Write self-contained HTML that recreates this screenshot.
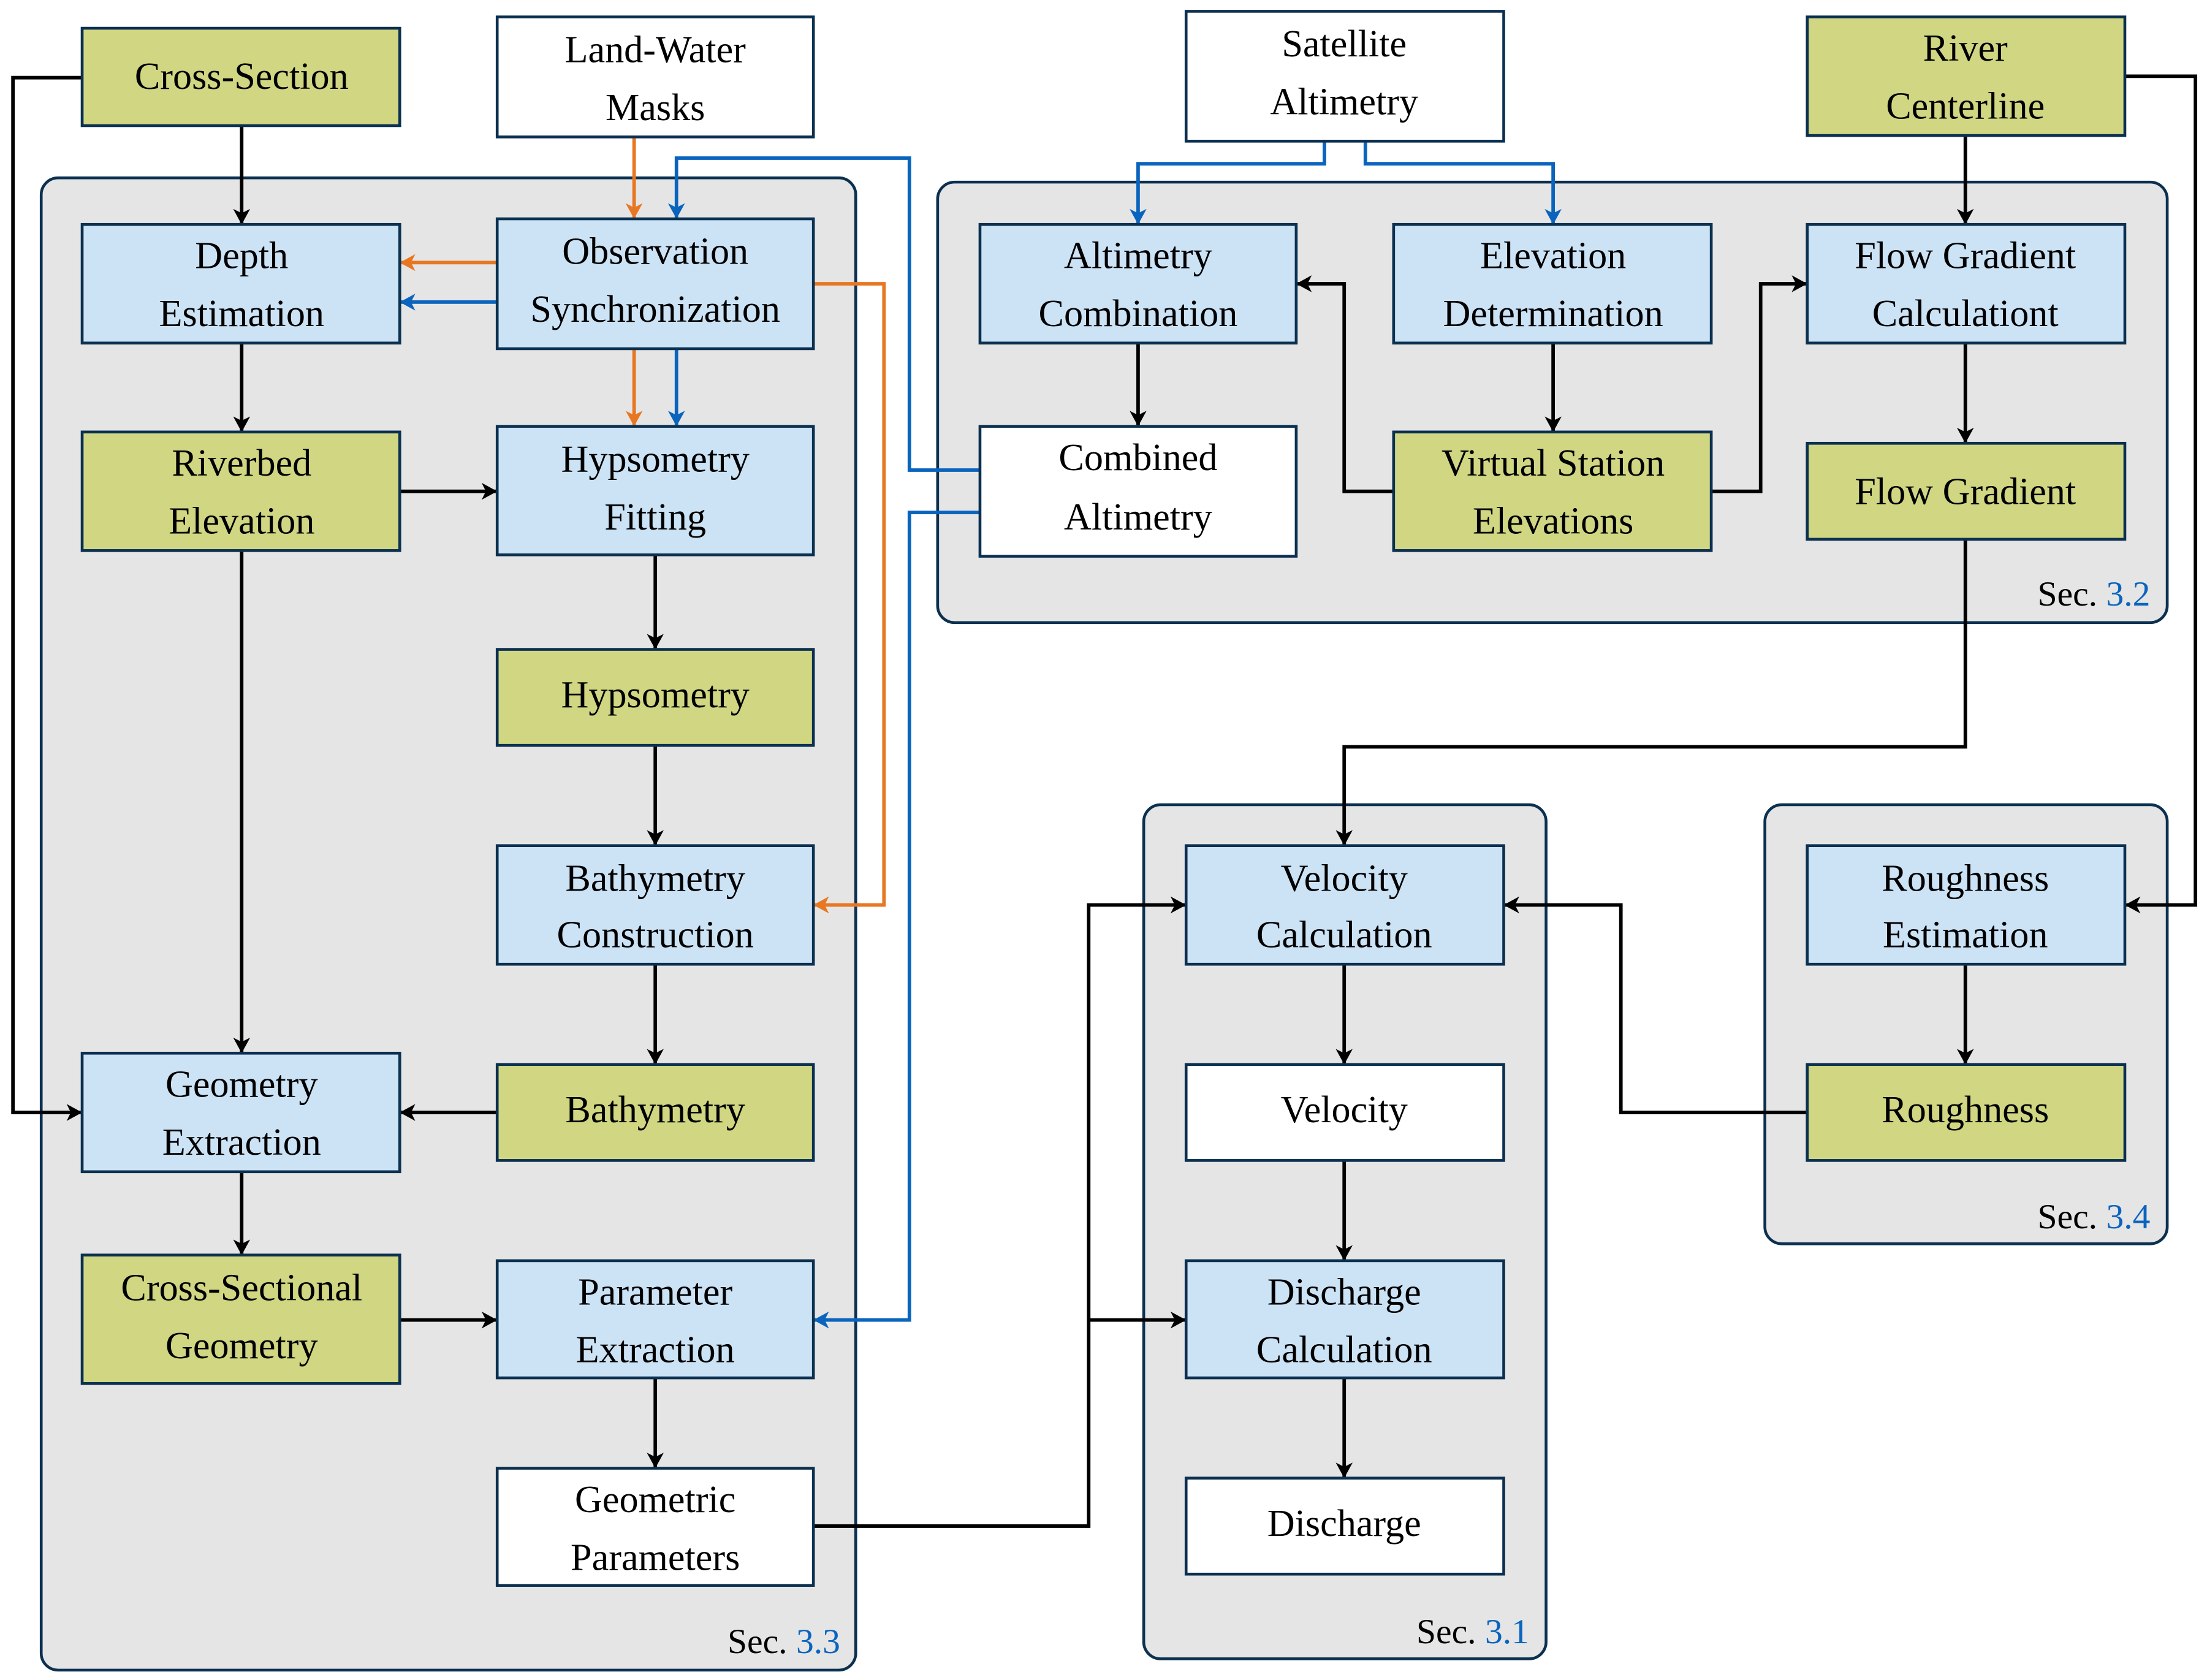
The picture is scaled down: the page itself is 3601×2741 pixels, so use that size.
<!DOCTYPE html>
<html><head><meta charset="utf-8"><style>html,body{margin:0;padding:0;background:#fff}svg{display:block}</style></head>
<body>
<svg xmlns="http://www.w3.org/2000/svg" width="3601" height="2741" viewBox="0 0 1563 1190" font-family="'Liberation Serif',serif">
<defs>
<marker id="ak" markerWidth="14" markerHeight="14" refX="11" refY="7" orient="auto" markerUnits="userSpaceOnUse"><path d="M1,1 L12,7 L1,13 L4,7 Z" fill="#000"/></marker>
<marker id="ao" markerWidth="14" markerHeight="14" refX="11" refY="7" orient="auto" markerUnits="userSpaceOnUse"><path d="M1,1 L12,7 L1,13 L4,7 Z" fill="#e87722"/></marker>
<marker id="ab" markerWidth="14" markerHeight="14" refX="11" refY="7" orient="auto" markerUnits="userSpaceOnUse"><path d="M1,1 L12,7 L1,13 L4,7 Z" fill="#0a64be"/></marker>
</defs>
<g fill="#e5e5e5" stroke="#0b3050" stroke-width="2">
<rect x="29" y="126" width="577" height="1057" rx="12"/>
<rect x="664" y="129" width="871" height="312" rx="12"/>
<rect x="810" y="570" width="285" height="605" rx="12"/>
<rect x="1250" y="570" width="285" height="311" rx="12"/>
</g>
<g stroke-width="2.5" fill="none">
<g stroke="#000" marker-end="url(#ak)">
<path d="M58,55 H9 V788 H57"/>
<path d="M171,89 V158"/>
<path d="M171,243 V305"/>
<path d="M283,348 H351"/>
<path d="M171,390 V745"/>
<path d="M464,393 V459"/>
<path d="M464,528 V598"/>
<path d="M464,683 V753"/>
<path d="M352,788 H284"/>
<path d="M171,830 V888"/>
<path d="M283,935 H351"/>
<path d="M464,976 V1039"/>
<path d="M576,1081 H771 V641 H839"/>
<path d="M771,935 H839"/>
<path d="M806,243 V301"/>
<path d="M1100,243 V305"/>
<path d="M987,348 H952 V201 H919"/>
<path d="M1212,348 H1247 V201 H1279"/>
<path d="M1392,96 V158"/>
<path d="M1505,54 H1555 V641 H1506"/>
<path d="M1392,243 V313"/>
<path d="M1392,382 V529 H952 V598"/>
<path d="M952,683 V753"/>
<path d="M952,822 V892"/>
<path d="M952,976 V1046"/>
<path d="M1392,683 V753"/>
<path d="M1280,788 H1148 V641 H1066"/>
</g>
<g stroke="#e87722" marker-end="url(#ao)">
<path d="M449,97 V154"/>
<path d="M352,186 H284"/>
<path d="M449,247 V301"/>
<path d="M576,201 H626 V641 H577"/>
</g>
<g stroke="#0a64be" marker-end="url(#ab)">
<path d="M694,333 H644 V112 H479 V154"/>
<path d="M352,214 H284"/>
<path d="M479,247 V301"/>
<path d="M694,363 H644 V935 H577"/>
<path d="M938,100 V116 H806 V158"/>
<path d="M967,100 V116 H1100 V158"/>
</g>
</g>
<g stroke="#0b3050" stroke-width="2">
<g fill="#d0d682">
<rect x="58" y="20" width="225" height="69"/>
<rect x="1280" y="12" width="225" height="84"/>
<rect x="58" y="306" width="225" height="84"/>
<rect x="352" y="460" width="224" height="68"/>
<rect x="352" y="754" width="224" height="68"/>
<rect x="58" y="889" width="225" height="91"/>
<rect x="987" y="306" width="225" height="84"/>
<rect x="1280" y="314" width="225" height="68"/>
<rect x="1280" y="754" width="225" height="68"/>
</g>
<g fill="#cce2f5">
<rect x="58" y="159" width="225" height="84"/>
<rect x="352" y="155" width="224" height="92"/>
<rect x="352" y="302" width="224" height="91"/>
<rect x="352" y="599" width="224" height="84"/>
<rect x="58" y="746" width="225" height="84"/>
<rect x="352" y="893" width="224" height="83"/>
<rect x="694" y="159" width="224" height="84"/>
<rect x="987" y="159" width="225" height="84"/>
<rect x="1280" y="159" width="225" height="84"/>
<rect x="840" y="599" width="225" height="84"/>
<rect x="840" y="893" width="225" height="83"/>
<rect x="1280" y="599" width="225" height="84"/>
</g>
<g fill="#fff">
<rect x="352" y="12" width="224" height="85"/>
<rect x="840" y="8" width="225" height="92"/>
<rect x="694" y="302" width="224" height="92"/>
<rect x="352" y="1040" width="224" height="83"/>
<rect x="840" y="754" width="225" height="68"/>
<rect x="840" y="1047" width="225" height="68"/>
</g>
</g>
<g font-size="27" text-anchor="middle" fill="#000">
<text x="171" y="63">Cross-Section</text>
<text x="464" y="44">Land-Water</text><text x="464" y="85">Masks</text>
<text x="952" y="40">Satellite</text><text x="952" y="81">Altimetry</text>
<text x="1392" y="43">River</text><text x="1392" y="84">Centerline</text>
<text x="171" y="190">Depth</text><text x="171" y="231">Estimation</text>
<text x="464" y="187">Observation</text><text x="464" y="228">Synchronization</text>
<text x="171" y="337">Riverbed</text><text x="171" y="378">Elevation</text>
<text x="464" y="334">Hypsometry</text><text x="464" y="375">Fitting</text>
<text x="464" y="501">Hypsometry</text>
<text x="464" y="631">Bathymetry</text><text x="464" y="671">Construction</text>
<text x="171" y="777">Geometry</text><text x="171" y="818">Extraction</text>
<text x="464" y="795">Bathymetry</text>
<text x="171" y="921">Cross-Sectional</text><text x="171" y="962">Geometry</text>
<text x="464" y="924">Parameter</text><text x="464" y="965">Extraction</text>
<text x="464" y="1071">Geometric</text><text x="464" y="1112">Parameters</text>
<text x="806" y="190">Altimetry</text><text x="806" y="231">Combination</text>
<text x="1100" y="190">Elevation</text><text x="1100" y="231">Determination</text>
<text x="1392" y="190">Flow Gradient</text><text x="1392" y="231">Calculationt</text>
<text x="806" y="333">Combined</text><text x="806" y="375">Altimetry</text>
<text x="1100" y="337">Virtual Station</text><text x="1100" y="378">Elevations</text>
<text x="1392" y="357">Flow Gradient</text>
<text x="952" y="631">Velocity</text><text x="952" y="671">Calculation</text>
<text x="952" y="795">Velocity</text>
<text x="952" y="924">Discharge</text><text x="952" y="965">Calculation</text>
<text x="952" y="1088">Discharge</text>
<text x="1392" y="631">Roughness</text><text x="1392" y="671">Estimation</text>
<text x="1392" y="795">Roughness</text>
</g>
<g font-size="25" text-anchor="end" fill="#000">
<text x="595" y="1171">Sec. <tspan fill="#0a64be">3.3</tspan></text>
<text x="1523" y="429">Sec. <tspan fill="#0a64be">3.2</tspan></text>
<text x="1083" y="1164">Sec. <tspan fill="#0a64be">3.1</tspan></text>
<text x="1523" y="870">Sec. <tspan fill="#0a64be">3.4</tspan></text>
</g>
</svg>
</body></html>
